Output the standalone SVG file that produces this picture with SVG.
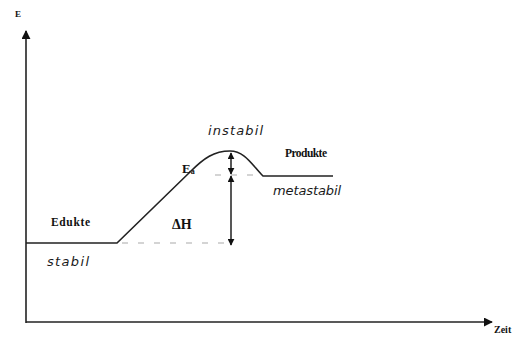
<svg xmlns="http://www.w3.org/2000/svg" width="516" height="338" viewBox="0 0 516 338">
<defs>
<marker id="ah" viewBox="0 0 10 10" refX="9" refY="5" markerWidth="7" markerHeight="7" markerUnits="userSpaceOnUse" orient="auto-start-reverse">
<path d="M0,0 L10,5 L0,10 z" fill="#111"/>
</marker>
<marker id="axh" viewBox="0 0 10 10" refX="9" refY="5" markerWidth="9" markerHeight="9" markerUnits="userSpaceOnUse" orient="auto">
<path d="M0,0 L10,5 L0,10 z" fill="#111"/>
</marker>
</defs>
<style>
.lbl{font-family:"Liberation Serif","Times New Roman",serif;font-weight:bold;fill:#111}
.hw{font-family:"DejaVu Sans","Liberation Sans",sans-serif;font-style:italic;font-size:13px;fill:#1a1a1a}
.ln{fill:none;stroke:#222;stroke-width:1.6}
.dash{fill:none;stroke:#aaa;stroke-width:1.2;stroke-dasharray:6 10}
</style>
<rect width="516" height="338" fill="#fff"/>
<g id="axes">
<line class="ln" x1="26" y1="323" x2="26" y2="31" marker-end="url(#axh)"/>
<line class="ln" x1="26" y1="322" x2="492" y2="322" marker-end="url(#axh)"/>
<text class="lbl" x="15" y="17" font-size="9" font-weight="normal">E</text>
<text class="lbl" x="494" y="333" font-size="10">Zeit</text>
</g>
<g id="curve">
<path class="ln" d="M26,243 L117,243 L190,172 C204,158 214,151 230,151 C245,151 252,165 263,176 L333,176"/>
</g>
<g id="connectors">
<line class="dash" x1="122" y1="243" x2="228" y2="243"/>
<line class="dash" x1="215" y1="175" x2="262" y2="175" stroke-dasharray="4 12" stroke="#bbb"/>
<line stroke="#111" stroke-width="1.4" x1="231" y1="153" x2="231" y2="174" marker-start="url(#ah)" marker-end="url(#ah)"/>
<line stroke="#111" stroke-width="1.4" x1="231" y1="176" x2="231" y2="245" marker-start="url(#ah)" marker-end="url(#ah)"/>
</g>
<g id="edukte">
<text class="lbl" x="51" y="226" font-size="11.5" textLength="39">Edukte</text>
<text class="hw" x="47" y="266" textLength="42">stabil</text>
</g>
<g id="produkte">
<text class="lbl" x="285" y="157" font-size="11.5" textLength="42">Produkte</text>
<text class="hw" x="273" y="195" textLength="68">metastabil</text>
</g>
<g id="uebergang">
<text class="hw" x="208" y="135" textLength="55">instabil</text>
<text class="lbl" x="182" y="173" font-size="13">E<tspan font-size="8" dy="1">a</tspan></text>
<text class="lbl" x="172" y="229" font-size="14">ΔH</text>
</g>
</svg>
